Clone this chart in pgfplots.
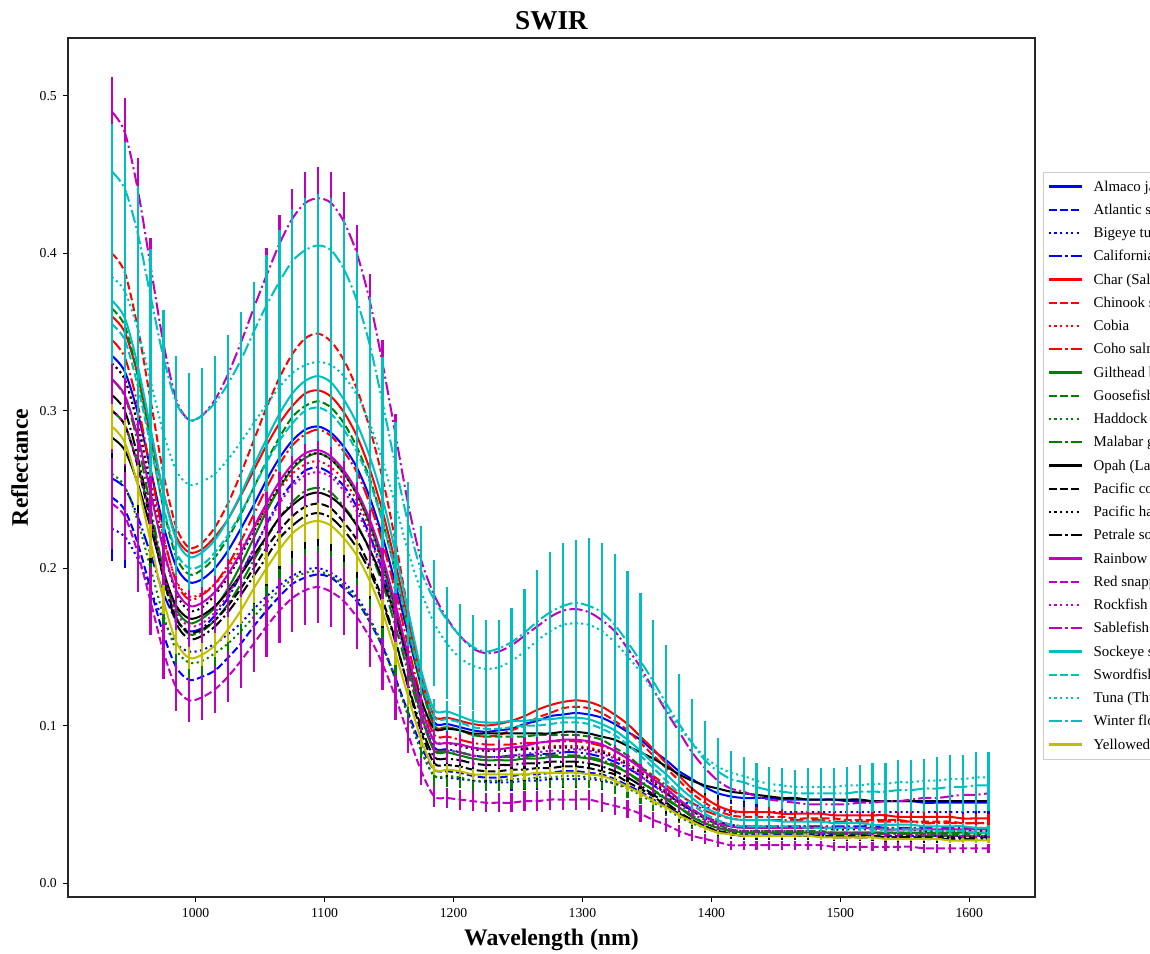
\documentclass[border=0pt]{standalone}
\usepackage{fontspec}
\setmainfont{Liberation Serif}
\usepackage{pgfplots}
\usepackage{pgfplotstable}
\pgfplotsset{compat=1.18}
\definecolor{mb}{rgb}{0,0,1}
\definecolor{mr}{rgb}{1,0,0}
\definecolor{mg}{rgb}{0,0.5,0}
\definecolor{mk}{rgb}{0,0,0}
\definecolor{mm}{rgb}{0.75,0,0.75}
\definecolor{mc}{rgb}{0,0.75,0.75}
\definecolor{my}{rgb}{0.75,0.75,0}
\pgfplotstableread[header=false]{
x 935 945 955 965 975 985 995 1005 1015 1025 1035 1045 1055 1065 1075 1085 1095 1105 1115 1125 1135 1145 1155 1165 1175 1185 1195 1205 1215 1225 1235 1245 1255 1265 1275 1285 1295 1305 1315 1325 1335 1345 1355 1365 1375 1385 1395 1405 1415 1425 1435 1445 1455 1465 1475 1485 1495 1505 1515 1525 1535 1545 1555 1565 1575 1585 1595 1605 1615
Almaco 0.335 0.325 0.299 0.263 0.227 0.201 0.191 0.193 0.200 0.211 0.225 0.240 0.256 0.270 0.281 0.288 0.290 0.286 0.277 0.264 0.245 0.220 0.190 0.157 0.125 0.102 0.101 0.099 0.097 0.096 0.097 0.098 0.101 0.103 0.106 0.107 0.108 0.107 0.105 0.101 0.096 0.091 0.084 0.078 0.071 0.066 0.061 0.057 0.055 0.054 0.054 0.054 0.053 0.053 0.053 0.053 0.053 0.052 0.052 0.052 0.052 0.052 0.052 0.051 0.051 0.051 0.051 0.051 0.051
Atlantic 0.245 0.237 0.216 0.187 0.158 0.137 0.129 0.131 0.135 0.143 0.152 0.163 0.173 0.182 0.190 0.194 0.196 0.194 0.187 0.179 0.166 0.150 0.130 0.108 0.087 0.072 0.071 0.070 0.068 0.067 0.067 0.068 0.069 0.069 0.070 0.071 0.071 0.070 0.069 0.066 0.062 0.058 0.053 0.049 0.044 0.040 0.036 0.033 0.032 0.031 0.031 0.031 0.031 0.031 0.031 0.031 0.031 0.031 0.031 0.030 0.030 0.030 0.030 0.030 0.030 0.030 0.030 0.030 0.030
Bigeye 0.225 0.220 0.206 0.186 0.167 0.152 0.147 0.148 0.152 0.158 0.165 0.174 0.182 0.189 0.195 0.199 0.200 0.197 0.191 0.182 0.168 0.151 0.130 0.106 0.084 0.068 0.067 0.066 0.065 0.064 0.064 0.064 0.065 0.065 0.066 0.066 0.066 0.066 0.065 0.063 0.061 0.059 0.057 0.054 0.052 0.050 0.048 0.047 0.045 0.045 0.045 0.045 0.045 0.045 0.045 0.045 0.045 0.045 0.045 0.045 0.045 0.045 0.045 0.045 0.045 0.045 0.045 0.045 0.045
California 0.257 0.251 0.233 0.209 0.184 0.167 0.160 0.162 0.170 0.181 0.196 0.212 0.228 0.243 0.254 0.262 0.264 0.260 0.252 0.239 0.221 0.198 0.170 0.138 0.107 0.086 0.085 0.083 0.081 0.080 0.080 0.081 0.081 0.082 0.082 0.083 0.083 0.082 0.080 0.077 0.073 0.068 0.062 0.057 0.051 0.046 0.042 0.039 0.037 0.036 0.036 0.036 0.036 0.036 0.036 0.036 0.036 0.036 0.036 0.036 0.035 0.035 0.035 0.035 0.035 0.035 0.035 0.035 0.035
Char 0.360 0.350 0.323 0.285 0.248 0.220 0.210 0.212 0.220 0.231 0.246 0.262 0.278 0.292 0.303 0.311 0.313 0.309 0.299 0.284 0.263 0.236 0.203 0.166 0.131 0.106 0.105 0.103 0.101 0.100 0.101 0.103 0.106 0.110 0.113 0.115 0.116 0.115 0.112 0.107 0.101 0.093 0.085 0.076 0.068 0.060 0.054 0.049 0.046 0.045 0.045 0.045 0.044 0.044 0.044 0.044 0.043 0.043 0.043 0.043 0.043 0.042 0.042 0.042 0.042 0.042 0.041 0.041 0.041
Chinook 0.400 0.388 0.353 0.307 0.260 0.226 0.213 0.216 0.226 0.241 0.260 0.281 0.302 0.321 0.336 0.346 0.349 0.344 0.332 0.314 0.289 0.257 0.217 0.172 0.130 0.100 0.099 0.097 0.094 0.093 0.094 0.097 0.100 0.105 0.108 0.111 0.112 0.111 0.108 0.103 0.097 0.089 0.081 0.073 0.065 0.057 0.051 0.046 0.043 0.042 0.042 0.042 0.042 0.041 0.041 0.041 0.041 0.040 0.040 0.040 0.040 0.040 0.039 0.039 0.039 0.039 0.038 0.038 0.038
Cobia 0.330 0.320 0.293 0.256 0.219 0.192 0.182 0.184 0.190 0.200 0.212 0.225 0.238 0.250 0.260 0.266 0.268 0.264 0.256 0.243 0.225 0.202 0.174 0.142 0.111 0.090 0.089 0.088 0.086 0.085 0.085 0.085 0.086 0.086 0.087 0.087 0.087 0.086 0.084 0.081 0.076 0.071 0.065 0.058 0.052 0.047 0.042 0.039 0.037 0.036 0.036 0.036 0.036 0.036 0.036 0.036 0.035 0.035 0.035 0.035 0.035 0.035 0.035 0.034 0.034 0.034 0.034 0.034 0.034
Coho 0.345 0.334 0.304 0.263 0.221 0.191 0.180 0.183 0.190 0.202 0.217 0.234 0.251 0.266 0.278 0.285 0.288 0.284 0.274 0.261 0.241 0.216 0.185 0.150 0.117 0.094 0.093 0.091 0.089 0.088 0.088 0.088 0.089 0.089 0.090 0.090 0.090 0.089 0.087 0.084 0.079 0.074 0.068 0.062 0.056 0.051 0.046 0.043 0.041 0.040 0.040 0.040 0.040 0.040 0.040 0.040 0.039 0.039 0.039 0.039 0.039 0.039 0.039 0.038 0.038 0.038 0.038 0.038 0.038
Gilthead 0.300 0.291 0.266 0.233 0.199 0.174 0.165 0.168 0.175 0.187 0.202 0.219 0.236 0.251 0.263 0.270 0.273 0.269 0.260 0.247 0.228 0.203 0.173 0.139 0.107 0.084 0.083 0.081 0.079 0.078 0.078 0.078 0.079 0.079 0.080 0.080 0.080 0.079 0.077 0.074 0.070 0.064 0.059 0.053 0.048 0.042 0.038 0.035 0.033 0.032 0.032 0.032 0.032 0.032 0.032 0.032 0.032 0.032 0.032 0.032 0.032 0.032 0.032 0.032 0.032 0.032 0.032 0.032 0.032
Goosefish 0.365 0.354 0.323 0.281 0.238 0.207 0.196 0.199 0.207 0.219 0.234 0.251 0.268 0.283 0.296 0.303 0.306 0.302 0.292 0.277 0.257 0.230 0.197 0.160 0.125 0.100 0.099 0.097 0.094 0.093 0.093 0.093 0.093 0.094 0.094 0.094 0.094 0.093 0.091 0.086 0.081 0.074 0.067 0.060 0.053 0.046 0.041 0.037 0.034 0.033 0.033 0.033 0.033 0.033 0.033 0.033 0.032 0.032 0.032 0.032 0.032 0.032 0.032 0.031 0.031 0.031 0.031 0.031 0.031
Haddock 0.260 0.252 0.230 0.200 0.170 0.148 0.140 0.141 0.146 0.152 0.160 0.169 0.178 0.186 0.193 0.197 0.198 0.195 0.189 0.180 0.167 0.150 0.129 0.106 0.084 0.068 0.068 0.067 0.065 0.065 0.065 0.066 0.066 0.067 0.067 0.068 0.068 0.067 0.066 0.063 0.060 0.056 0.051 0.047 0.042 0.038 0.035 0.032 0.031 0.030 0.030 0.030 0.030 0.030 0.030 0.030 0.030 0.030 0.030 0.030 0.029 0.029 0.029 0.029 0.029 0.029 0.029 0.029 0.029
Malabar 0.320 0.309 0.280 0.239 0.199 0.169 0.158 0.160 0.167 0.177 0.190 0.205 0.219 0.232 0.242 0.249 0.251 0.248 0.239 0.228 0.211 0.190 0.163 0.133 0.105 0.085 0.084 0.083 0.081 0.080 0.080 0.080 0.080 0.081 0.081 0.081 0.081 0.080 0.078 0.075 0.070 0.065 0.059 0.054 0.048 0.043 0.038 0.035 0.033 0.032 0.032 0.032 0.032 0.032 0.032 0.032 0.031 0.031 0.031 0.031 0.031 0.031 0.031 0.030 0.030 0.030 0.030 0.030 0.030
Opah 0.283 0.275 0.254 0.226 0.197 0.176 0.168 0.170 0.176 0.185 0.196 0.208 0.220 0.232 0.240 0.246 0.248 0.245 0.238 0.227 0.212 0.193 0.169 0.142 0.116 0.098 0.098 0.097 0.095 0.095 0.095 0.095 0.095 0.095 0.095 0.096 0.096 0.095 0.093 0.091 0.087 0.083 0.079 0.074 0.069 0.065 0.062 0.060 0.058 0.057 0.056 0.055 0.054 0.054 0.053 0.053 0.053 0.053 0.053 0.052 0.052 0.052 0.052 0.052 0.052 0.052 0.052 0.052 0.052
PacificA 0.300 0.291 0.265 0.230 0.194 0.168 0.159 0.161 0.167 0.176 0.187 0.200 0.213 0.224 0.233 0.239 0.241 0.238 0.229 0.218 0.201 0.180 0.154 0.124 0.096 0.076 0.075 0.074 0.072 0.071 0.071 0.072 0.072 0.073 0.073 0.074 0.074 0.073 0.071 0.069 0.064 0.060 0.055 0.049 0.044 0.040 0.036 0.033 0.031 0.030 0.030 0.030 0.030 0.030 0.030 0.030 0.030 0.030 0.030 0.030 0.029 0.029 0.029 0.029 0.029 0.029 0.029 0.029 0.029
PacificB 0.330 0.320 0.291 0.252 0.212 0.184 0.173 0.175 0.183 0.194 0.208 0.223 0.239 0.252 0.264 0.271 0.273 0.269 0.260 0.247 0.229 0.205 0.176 0.143 0.112 0.090 0.089 0.087 0.085 0.084 0.084 0.084 0.085 0.085 0.086 0.086 0.086 0.085 0.083 0.080 0.075 0.070 0.064 0.057 0.051 0.046 0.041 0.038 0.036 0.035 0.035 0.035 0.035 0.035 0.035 0.035 0.034 0.034 0.034 0.034 0.034 0.034 0.034 0.033 0.033 0.033 0.033 0.033 0.033
Petrale 0.310 0.300 0.271 0.233 0.194 0.165 0.155 0.157 0.163 0.172 0.183 0.195 0.207 0.219 0.227 0.233 0.235 0.232 0.224 0.213 0.198 0.178 0.153 0.125 0.099 0.080 0.079 0.078 0.076 0.075 0.075 0.075 0.076 0.076 0.077 0.077 0.077 0.076 0.074 0.071 0.067 0.062 0.056 0.051 0.045 0.040 0.036 0.033 0.031 0.030 0.030 0.030 0.030 0.030 0.030 0.030 0.029 0.029 0.029 0.029 0.029 0.029 0.029 0.028 0.028 0.028 0.028 0.028 0.028
Rainbow 0.320 0.310 0.284 0.248 0.212 0.186 0.176 0.178 0.185 0.196 0.210 0.226 0.241 0.255 0.266 0.273 0.275 0.271 0.262 0.249 0.231 0.207 0.177 0.144 0.112 0.090 0.089 0.088 0.086 0.085 0.085 0.086 0.087 0.089 0.090 0.091 0.091 0.090 0.088 0.084 0.079 0.073 0.066 0.060 0.053 0.047 0.042 0.038 0.036 0.035 0.035 0.035 0.035 0.035 0.035 0.035 0.035 0.035 0.035 0.035 0.034 0.034 0.034 0.034 0.034 0.034 0.034 0.034 0.034
Redsnap 0.241 0.233 0.210 0.179 0.147 0.124 0.116 0.118 0.123 0.131 0.141 0.152 0.163 0.173 0.181 0.186 0.188 0.185 0.179 0.169 0.156 0.139 0.118 0.094 0.071 0.055 0.054 0.053 0.052 0.051 0.051 0.051 0.052 0.052 0.053 0.053 0.053 0.053 0.051 0.049 0.047 0.044 0.040 0.037 0.033 0.030 0.028 0.026 0.024 0.024 0.024 0.024 0.024 0.024 0.024 0.024 0.023 0.023 0.023 0.023 0.023 0.023 0.023 0.022 0.022 0.022 0.022 0.022 0.022
Rockfish 0.300 0.291 0.266 0.232 0.197 0.172 0.163 0.165 0.172 0.183 0.197 0.212 0.227 0.241 0.252 0.259 0.261 0.258 0.249 0.236 0.219 0.196 0.168 0.136 0.106 0.085 0.084 0.083 0.081 0.080 0.080 0.081 0.082 0.083 0.084 0.084 0.085 0.084 0.082 0.079 0.074 0.068 0.062 0.056 0.050 0.044 0.040 0.036 0.034 0.033 0.033 0.033 0.033 0.033 0.033 0.032 0.032 0.032 0.032 0.032 0.031 0.031 0.031 0.031 0.031 0.030 0.030 0.030 0.030
Sablefish 0.490 0.477 0.441 0.392 0.343 0.307 0.294 0.297 0.307 0.323 0.343 0.365 0.386 0.406 0.422 0.432 0.435 0.432 0.420 0.400 0.370 0.330 0.285 0.240 0.205 0.183 0.168 0.157 0.149 0.146 0.147 0.151 0.157 0.163 0.169 0.173 0.174 0.172 0.167 0.160 0.149 0.137 0.123 0.109 0.096 0.083 0.073 0.065 0.060 0.058 0.055 0.053 0.052 0.051 0.050 0.050 0.050 0.050 0.051 0.051 0.052 0.052 0.053 0.054 0.054 0.055 0.056 0.056 0.057
Sockeye 0.370 0.359 0.329 0.289 0.248 0.218 0.207 0.210 0.218 0.231 0.247 0.265 0.282 0.298 0.311 0.319 0.322 0.318 0.307 0.292 0.271 0.244 0.210 0.172 0.135 0.110 0.109 0.106 0.103 0.102 0.102 0.103 0.103 0.104 0.104 0.105 0.105 0.104 0.101 0.097 0.091 0.084 0.076 0.069 0.061 0.054 0.048 0.044 0.041 0.040 0.040 0.040 0.039 0.039 0.039 0.039 0.038 0.038 0.038 0.037 0.037 0.037 0.037 0.036 0.036 0.036 0.036 0.035 0.035
Swordfish 0.355 0.345 0.316 0.278 0.239 0.210 0.200 0.202 0.210 0.221 0.235 0.251 0.267 0.281 0.292 0.300 0.302 0.298 0.288 0.274 0.255 0.229 0.198 0.162 0.129 0.105 0.104 0.102 0.099 0.098 0.098 0.099 0.100 0.100 0.101 0.102 0.102 0.101 0.098 0.094 0.088 0.081 0.073 0.065 0.057 0.050 0.044 0.040 0.037 0.036 0.036 0.036 0.036 0.036 0.035 0.035 0.035 0.035 0.035 0.034 0.034 0.034 0.034 0.034 0.033 0.033 0.033 0.032 0.032
Tuna 0.385 0.376 0.352 0.319 0.286 0.262 0.253 0.255 0.260 0.269 0.280 0.292 0.304 0.315 0.324 0.329 0.331 0.329 0.322 0.310 0.292 0.268 0.240 0.210 0.185 0.165 0.152 0.143 0.138 0.136 0.137 0.141 0.147 0.154 0.160 0.164 0.165 0.164 0.160 0.153 0.144 0.134 0.122 0.111 0.099 0.089 0.080 0.074 0.070 0.068 0.065 0.063 0.062 0.061 0.061 0.061 0.061 0.062 0.062 0.063 0.063 0.064 0.064 0.065 0.065 0.066 0.066 0.067 0.067
TunaE 0.055 0.055 0.055 0.055 0.055 0.055 0.055 0.053 0.052 0.052 0.051 0.051 0.050 0.050 0.050 0.050 0.050 0.050 0.050 0.050 0.050 0.050 0.048 0.045 0.042 0.040 0.035 0.030 0.028 0.028 0.030 0.034 0.040 0.045 0.050 0.052 0.053 0.055 0.056 0.056 0.054 0.050 0.045 0.040 0.034 0.028 0.023 0.018 0.014 0.012 0.011 0.011 0.011 0.011 0.012 0.012 0.012 0.012 0.013 0.013 0.013 0.014 0.014 0.014 0.015 0.015 0.015 0.016 0.016
Winter 0.452 0.441 0.413 0.373 0.334 0.305 0.294 0.297 0.305 0.317 0.332 0.350 0.367 0.382 0.395 0.402 0.405 0.402 0.390 0.370 0.342 0.305 0.265 0.228 0.198 0.180 0.167 0.157 0.150 0.147 0.149 0.153 0.159 0.166 0.172 0.176 0.178 0.176 0.172 0.164 0.153 0.141 0.128 0.114 0.101 0.089 0.078 0.071 0.066 0.064 0.061 0.059 0.058 0.057 0.057 0.057 0.057 0.057 0.058 0.058 0.058 0.059 0.059 0.060 0.060 0.061 0.061 0.062 0.062
WinterE 0.030 0.030 0.030 0.030 0.030 0.030 0.030 0.030 0.030 0.031 0.031 0.032 0.032 0.033 0.033 0.033 0.033 0.033 0.032 0.031 0.030 0.029 0.028 0.026 0.024 0.022 0.021 0.020 0.020 0.020 0.018 0.020 0.024 0.030 0.034 0.037 0.038 0.038 0.036 0.035 0.033 0.031 0.029 0.026 0.023 0.020 0.017 0.015 0.013 0.012 0.011 0.011 0.011 0.011 0.012 0.012 0.012 0.013 0.013 0.013 0.014 0.014 0.014 0.015 0.015 0.015 0.016 0.016 0.016
Yellowe 0.290 0.280 0.253 0.217 0.180 0.153 0.143 0.145 0.151 0.161 0.173 0.187 0.200 0.212 0.222 0.228 0.230 0.227 0.219 0.208 0.192 0.172 0.146 0.118 0.091 0.072 0.072 0.071 0.069 0.069 0.069 0.069 0.069 0.070 0.070 0.070 0.070 0.069 0.068 0.065 0.061 0.057 0.052 0.048 0.043 0.039 0.035 0.032 0.031 0.030 0.030 0.030 0.030 0.030 0.030 0.029 0.029 0.029 0.029 0.029 0.028 0.028 0.028 0.028 0.028 0.027 0.027 0.027 0.027
}\rawdata
\pgfplotstabletranspose[colnames from=0]{\data}{\rawdata}
\pgfplotsset{
  ln/.style={color=#1, line width=1.15pt, no markers, smooth},
  er/.style={error bars/y dir=both, error bars/y fixed relative=#1,
    error bars/error mark=none,
    error bars/draw error bar/.code 2 args={\draw[solid, line width=1.25pt] ##1 -- ##2;}},
  erE/.style={error bars/y dir=both, error bars/y explicit,
    error bars/error mark=none,
    error bars/draw error bar/.code 2 args={\draw[solid, line width=1.25pt] ##1 -- ##2;}},
  mdash/.style={dash pattern=on 4.4pt off 1.9pt},
  mdot/.style={dash pattern=on 1.2pt off 1.95pt},
  mdd/.style={dash pattern=on 7.5pt off 1.9pt on 1.2pt off 1.9pt},
}
\begin{document}
\begin{tikzpicture}
\begin{axis}[
  at={(0,0)}, anchor=south west, scale only axis,
  width=19.34cm, height=17.18cm,
  xmin=901, xmax=1651, ymin=-0.0089, ymax=0.5368,
  xtick={1000,1100,1200,1300,1400,1500,1600},
  ytick={0,0.1,0.2,0.3,0.4,0.5},
  /pgf/number format/assume math mode=true,
  xticklabel style={/pgf/number format/1000 sep={}},
  yticklabel style={/pgf/number format/fixed, /pgf/number format/fixed zerofill, /pgf/number format/precision=1},
  tick label style={font=\fontsize{7.8}{9}\selectfont},
  tick align=outside, tick pos=left, major tick length=0.1cm,
  every tick/.style={black, line width=0.5pt},
  axis line style={line width=0.6pt, black!85},
  every axis title shift=0pt,
  title={SWIR},
  title style={font=\fontsize{15.5}{18}\selectfont\bfseries, at={(axis description cs:0.5,1.0099)}, anchor=base, yshift=0pt},
  xlabel={Wavelength (nm)},
  xlabel style={font=\fontsize{13.5}{16}\selectfont\bfseries, at={(axis description cs:0.5,-0.057)}, anchor=base},
  ylabel={Reflectance},
  ylabel style={font=\fontsize{13.5}{16}\selectfont\bfseries, at={(axis description cs:-0.0414,0.5)}, anchor=base},
  legend cell align=left,
  legend image code/.code={\draw[#1, line width=1.3pt] (0cm,0cm) -- (0.66cm,0cm);},
  legend style={at={(axis description cs:1.0083,0.5023)}, anchor=west,
    font=\fontsize{8.5}{10}\selectfont, draw=black!20, fill=white,
    inner xsep=2.5pt, inner ysep=1.6pt, row sep=0pt, column sep=4.5pt,
    nodes={inner sep=1.5pt, text height=7.7pt, text depth=2.53pt}},
  legend entries={Almaco jack, Atlantic salmon, Bigeye tuna, California halibut, Char (Salvelinus), Chinook salmon, Cobia, Coho salmon, Gilthead bream, Goosefish, Haddock, Malabar grouper, Opah (Lampris), Pacific cod, Pacific halibut, Petrale sole, Rainbow trout, Red snapper, Rockfish, Sablefish, Sockeye salmon, Swordfish, Tuna (Thunnus), Winter flounder, Yellowedge grouper},
]
\addplot[ln=mb, er=0.09] table[x=x,y=Almaco]{\data};
\addplot[ln=mb, mdash, er=0.10] table[x=x,y=Atlantic]{\data};
\addplot[ln=mb, mdot, er=0.09] table[x=x,y=Bigeye]{\data};
\addplot[ln=mb, mdd, er=0.09] table[x=x,y=California]{\data};
\addplot[ln=mr, er=0.07] table[x=x,y=Char]{\data};
\addplot[ln=mr, mdash, er=0.07] table[x=x,y=Chinook]{\data};
\addplot[ln=mr, mdot, er=0.08] table[x=x,y=Cobia]{\data};
\addplot[ln=mr, mdd, er=0.08] table[x=x,y=Coho]{\data};
\addplot[ln=mg, er=0.09] table[x=x,y=Gilthead]{\data};
\addplot[ln=mg, mdash, er=0.08] table[x=x,y=Goosefish]{\data};
\addplot[ln=mg, mdot, er=0.10] table[x=x,y=Haddock]{\data};
\addplot[ln=mg, mdd, er=0.09] table[x=x,y=Malabar]{\data};
\addplot[ln=mk, er=0.10] table[x=x,y=Opah]{\data};
\addplot[ln=mk, mdash, er=0.10] table[x=x,y=PacificA]{\data};
\addplot[ln=mk, mdot, er=0.08] table[x=x,y=PacificB]{\data};
\addplot[ln=mk, mdd, er=0.09] table[x=x,y=Petrale]{\data};
\addplot[ln=mm, er=0.09] table[x=x,y=Rainbow]{\data};
\addplot[ln=mm, mdash, er=0.12] table[x=x,y=Redsnap]{\data};
\addplot[ln=mm, mdot, er=0.09] table[x=x,y=Rockfish]{\data};
\addplot[ln=mm, mdd, er=0.045] table[x=x,y=Sablefish]{\data};
\addplot[ln=mc, er=0.06] table[x=x,y=Sockeye]{\data};
\addplot[ln=mc, mdash, er=0.07] table[x=x,y=Swordfish]{\data};
\addplot[ln=mc, mdot, erE] table[x=x,y=Tuna,y error=TunaE]{\data};
\addplot[ln=mc, mdd, erE] table[x=x,y=Winter,y error=WinterE]{\data};
\addplot[ln=my, er=0.05] table[x=x,y=Yellowe]{\data};
\end{axis}
\pgfresetboundingbox
\path[use as bounding box] (-1.36,-1.14) rectangle (21.64,17.94);
\end{tikzpicture}
\end{document}
